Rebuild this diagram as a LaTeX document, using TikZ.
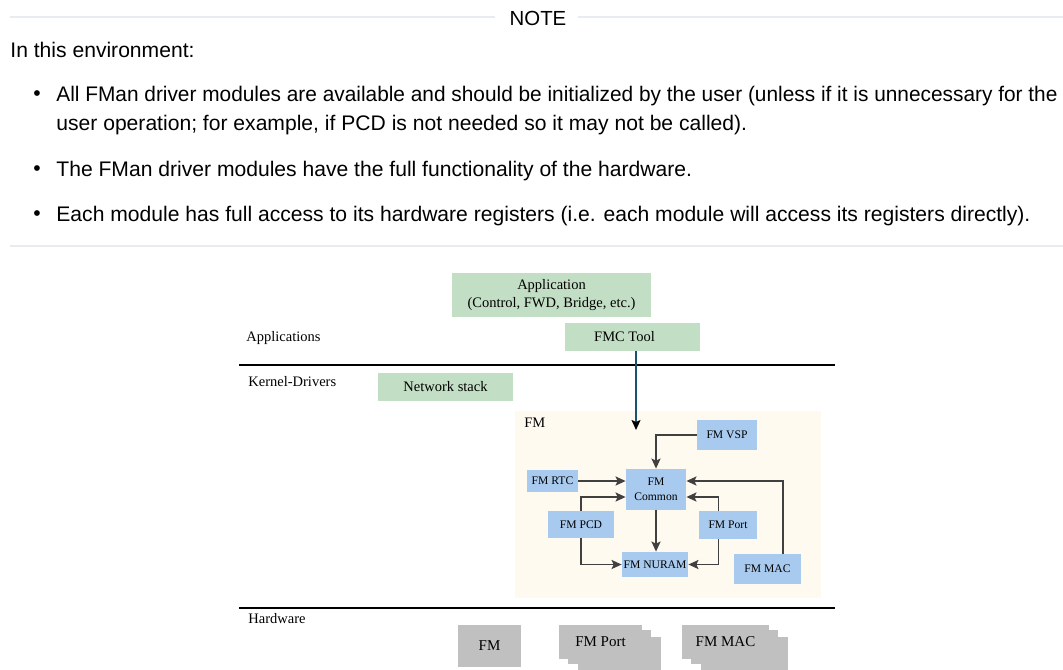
\documentclass[tikz,border=0pt]{standalone}
\usepackage{fontspec}
\setmainfont{Liberation Sans}
\newfontfamily\diagserif{Liberation Serif}
\usetikzlibrary{arrows.meta,calc}
\usepackage{xcolor}
\definecolor{noteline}{RGB}{232,235,239}
\definecolor{appgreen}{RGB}{194,222,196}
\definecolor{fmblue}{RGB}{168,202,238}
\definecolor{fmbeige}{RGB}{254,250,239}
\definecolor{hwgray}{RGB}{192,192,192}
\definecolor{linkgray}{RGB}{64,64,64}
\definecolor{toolteal}{RGB}{22,84,112}

\tikzset{
  notetext/.style={anchor=west,inner sep=0pt,font=\fontsize{10.55}{12}\selectfont},
  layertext/.style={anchor=west,inner sep=0pt,font=\diagserif\fontsize{7.25}{9}\selectfont},
  appbox/.style={fill=appgreen,inner sep=0pt,align=center,font=\diagserif\fontsize{7.25}{9}\selectfont},
  modbox/.style={fill=fmblue,inner sep=0pt,align=center,font=\diagserif\fontsize{5.8}{7.5}\selectfont},
  hwbox/.style={fill=hwgray,inner sep=0pt,font=\diagserif\fontsize{7.5}{9}\selectfont},
  link/.style={-{Stealth[length=5pt,width=4.5pt,inset=1pt]},draw=linkgray,line width=0.9pt}
}

\begin{document}
\begin{tikzpicture}[x=0.5pt,y=-0.5pt,line cap=butt]
\useasboundingbox (0,0) rectangle (1063,669);
% note block
\draw[noteline,line width=1pt] (10,17) -- (495,17);
\draw[noteline,line width=1pt] (578,17) -- (1063,17);
\node[inner sep=0pt,font=\fontsize{10.2}{12}\selectfont] (note) at (538,18) {NOTE};
\node[notetext] (intro) at (10,50) {In this environment:};
\node[notetext] (bula) at (33,96) {\textbullet};
\node[notetext,xscale=0.988] (linea) at (56,96) {All FMan driver modules are available and should be initialized by the user (unless if it is unnecessary for the};
\node[notetext] (lineb) at (56,125) {user operation; for example, if PCD is not needed so it may not be called).};
\node[notetext] (bulb) at (33,171) {\textbullet};
\node[notetext] (linec) at (56,171) {The FMan driver modules have the full functionality of the hardware.};
\node[notetext] (bulc) at (33,216) {\textbullet};
\node[notetext] (lined) at (56,216) {Each module has full access to its hardware registers (i.e. each module will access its registers directly).};
\draw[noteline,line width=1pt] (10,246) -- (1063,246);

% layers
\node[layertext] (applayer) at (246,338) {Applications};
\node[layertext] (kernlayer) at (248,382) {Kernel-Drivers};
\node[layertext] (hwlayer) at (248,619) {Hardware};
\draw[line width=0.6pt] (239,365) -- (835,365);
\draw[line width=0.6pt] (239,608) -- (835,608);

% applications
\node[appbox,minimum width=99.5pt,minimum height=22pt] (app) at (551.5,295) {Application\\(Control, FWD, Bridge, etc.)};
\node[appbox,minimum width=67.5pt,minimum height=14pt] (fmctool) at (632.5,337) {FMC Tool\hspace*{8pt}};
\node[appbox,minimum width=67.5pt,minimum height=14pt] (netstack) at (445.5,387) {Network stack};

% FM driver modules
\fill[fmbeige] (515,411) rectangle (821,598);
\node[layertext] (fmlabel) at (524,423) {FM};
\node[modbox,minimum width=30pt,minimum height=15pt] (vsp) at (727,435) {FM VSP};
\node[modbox,minimum width=25.5pt,minimum height=11pt] (rtc) at (552.5,481) {FM RTC};
\node[modbox,minimum width=30pt,minimum height=20.5pt] (common) at (656,489.5) {FM\\Common};
\node[modbox,minimum width=33pt,minimum height=13.5pt] (pcd) at (581,524.5) {FM PCD};
\node[modbox,minimum width=29pt,minimum height=14pt] (port) at (728,525) {FM Port};
\node[modbox,minimum width=33pt,minimum height=12.5pt] (nuram) at (655,564.5) {FM NURAM};
\node[modbox,minimum width=33.5pt,minimum height=15pt] (mac) at (767.5,569) {FM MAC};

\coordinate (fmentry) at (636,430);
\draw[draw=toolteal,line width=0.8pt,-{Stealth[length=5pt,width=4.5pt,inset=1pt,color=black]}] ($(fmctool.south)+(3.5,0)$) -- (fmentry);
\draw[link] (vsp.west) -| (common.north);
\draw[link] (rtc.east) -- (rtc.east -| common.west);
\draw[link] (pcd.north) |- ($(common.west)+(0,7.5)$);
\draw[link] (pcd.south) |- (nuram.west);
\draw[link] (common.south) -- (common.south |- nuram.north);
\draw[link] ($(port.north)+(-9.5,0)$) |- ($(common.east)+(0,7.5)$);
\draw[link] ($(port.south)+(-9.5,0)$) |- (nuram.east);
\draw[link] ($(mac.north)+(15.5,0)$) |- ($(common.east)+(0,-8.5)$);

% hardware
\node[hwbox,minimum width=31.5pt,minimum height=21pt] (hwfm) at (489.5,646) {FM};
\node[hwbox,minimum width=41.5pt,minimum height=17pt] (hwportc) at (619.5,654) {};
\node[hwbox,minimum width=41.5pt,minimum height=17pt] (hwportb) at (609.5,647) {};
\node[hwbox,minimum width=41.5pt,minimum height=17pt] (hwport) at (600.5,642) {FM Port};
\node[hwbox,minimum width=43.5pt,minimum height=17pt] (hwmacc) at (744.5,654) {};
\node[hwbox,minimum width=43.5pt,minimum height=17pt] (hwmacb) at (734.5,647) {};
\node[hwbox,minimum width=43.5pt,minimum height=17pt] (hwmac) at (725.5,642) {FM MAC};
\end{tikzpicture}
\end{document}
